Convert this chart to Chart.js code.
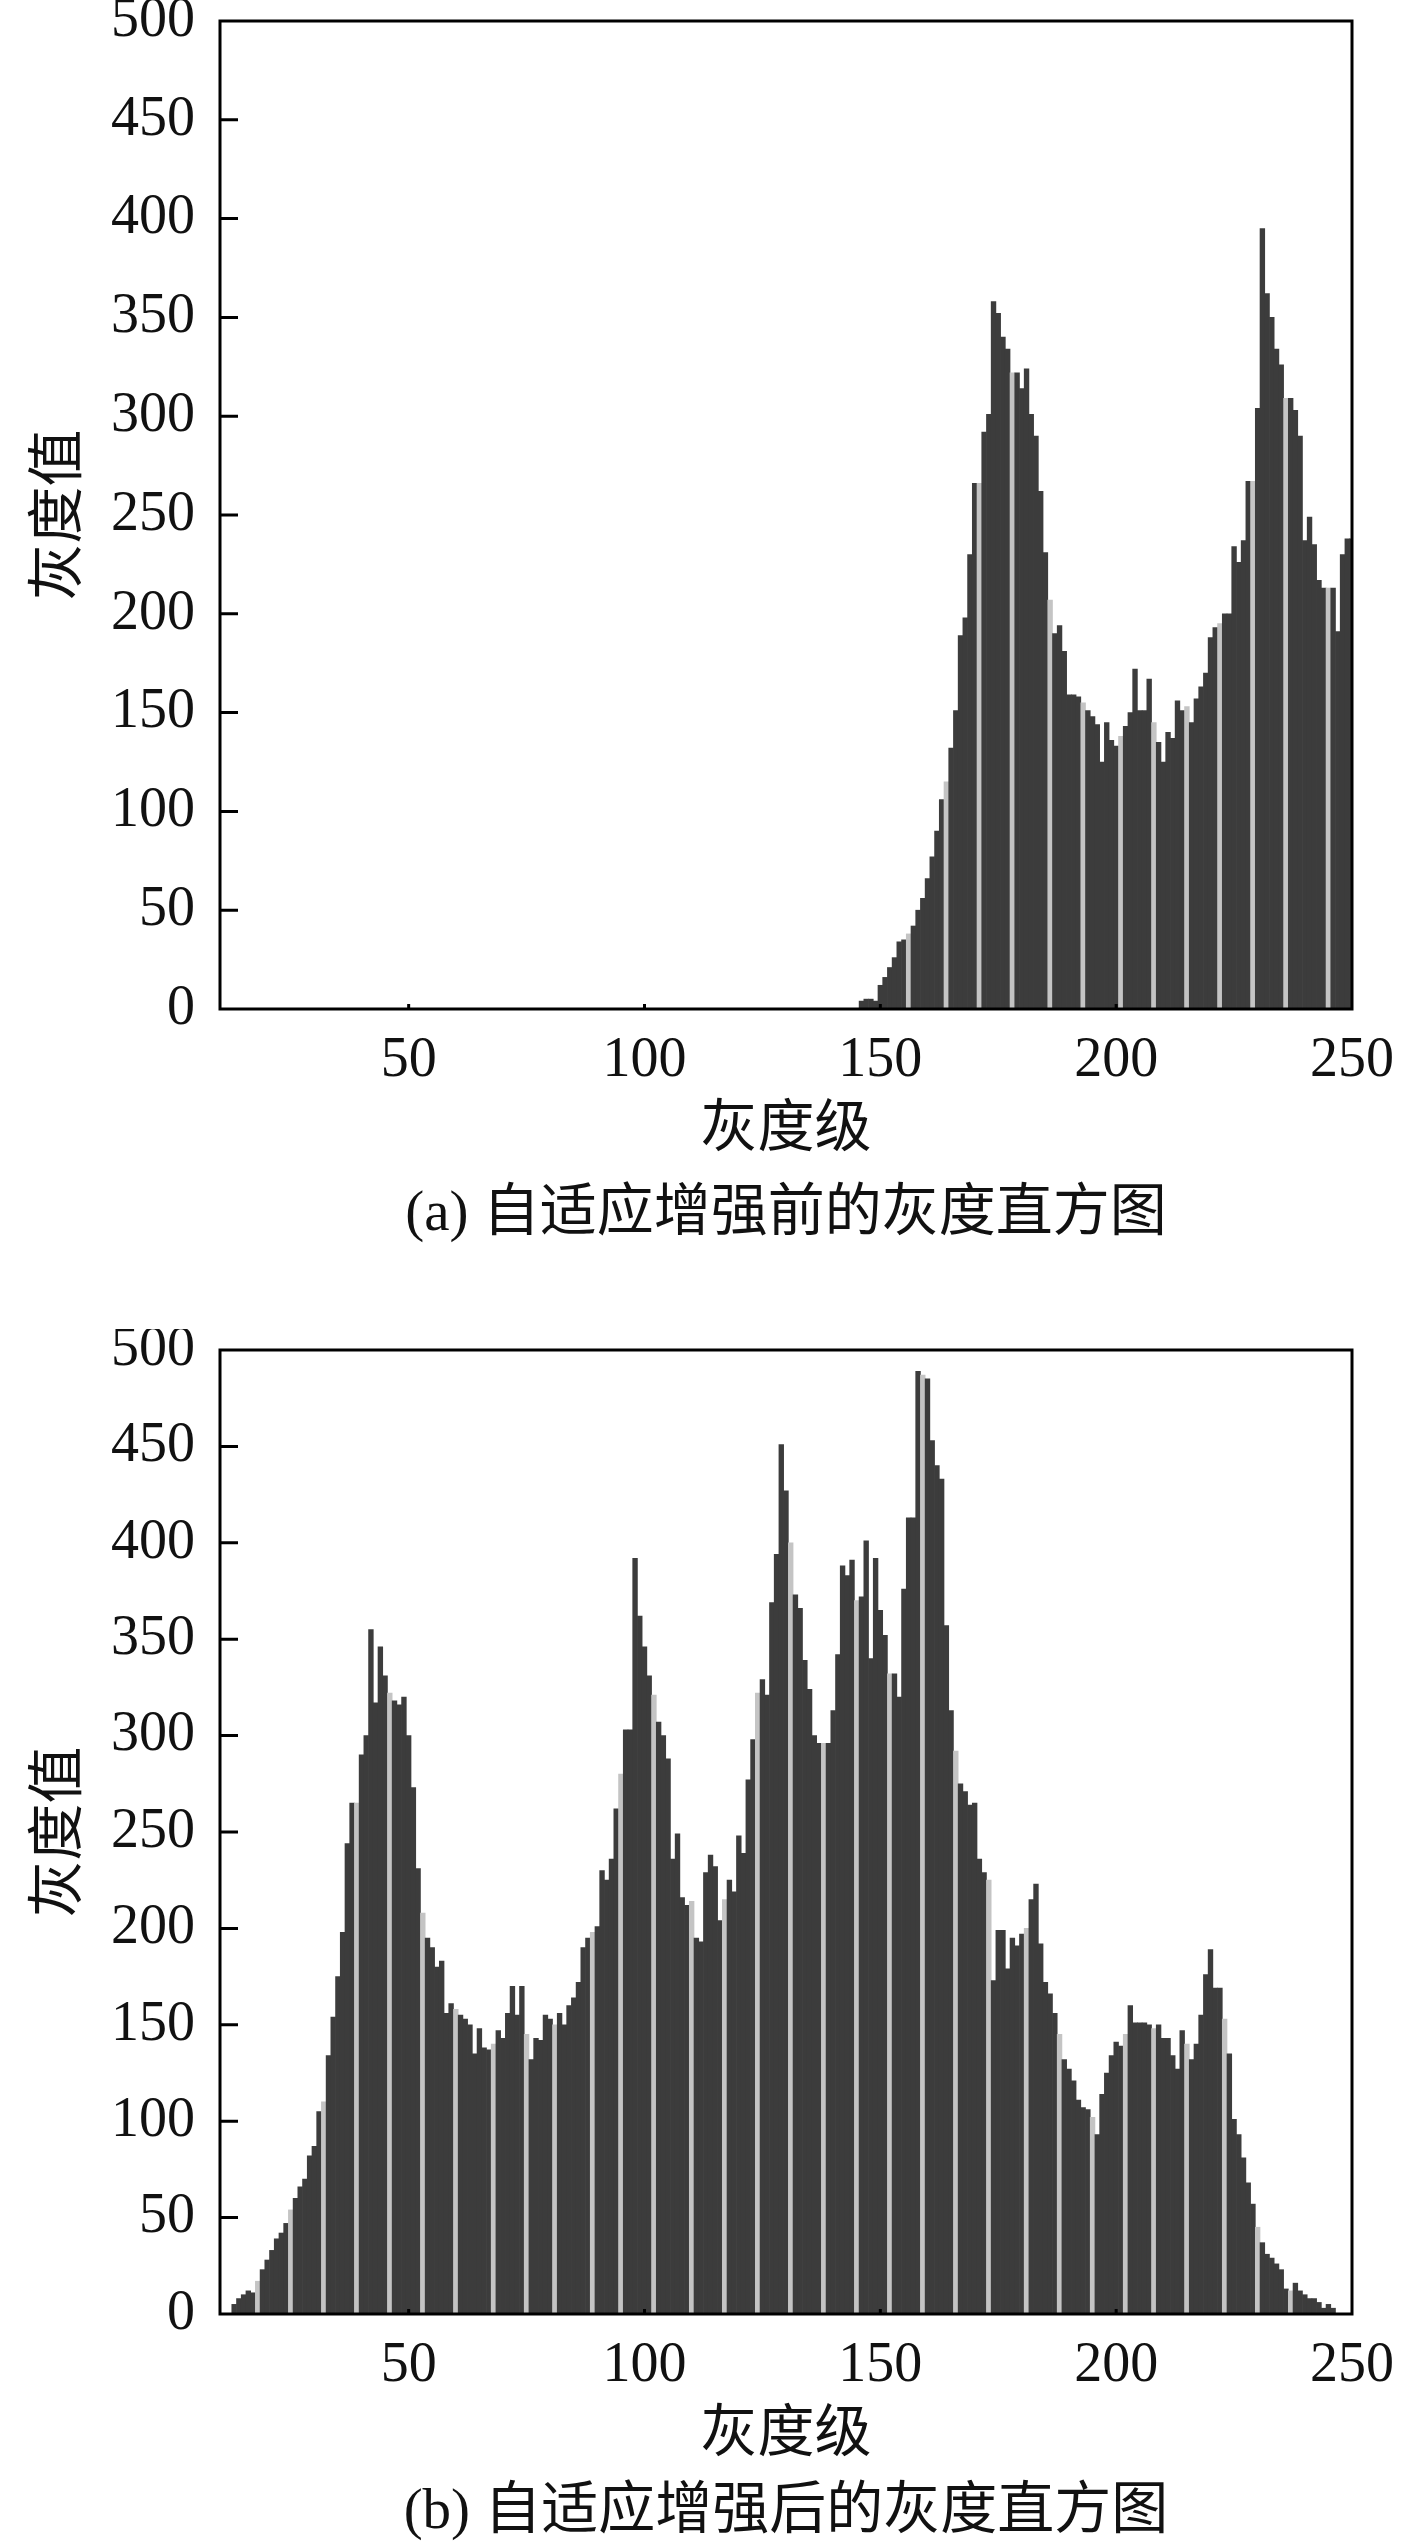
<!DOCTYPE html>
<html>
<head>
<meta charset="utf-8">
<script src="https://cdn.jsdelivr.net/npm/chart.js@4.4.1/dist/chart.umd.min.js"></script>
<style>
  body { margin: 0; background: #fff; width: 1417px; height: 2546px; position: relative; overflow: hidden; }
  canvas { position: absolute; left: 0; }
  .caption {
    position: absolute; white-space: nowrap; transform: translateX(-50%);
    font-family: 'Liberation Serif', 'Noto Sans CJK SC', serif; font-size: 57px; line-height: 57px; color: #111;
  }
</style>
</head>
<body>
<canvas id="chart_a" width="1417" height="1169" style="top:0px"></canvas>
<div class="caption" style="left:786px; top:1182px">(a) 自适应增强前的灰度直方图</div>
<canvas id="chart_b" width="1417" height="1145" style="top:1329px"></canvas>
<div class="caption" style="left:786px; top:2480px">(b) 自适应增强后的灰度直方图</div>
<script>
// (a) before enhancement
var levelsA = [];
for (var g = 146; g <= 250; g++) levelsA.push(g);
var countsA = [
  4, 5, 5, 4, 12, 16, 21, 26, 34, 35,            // 146-155
  38, 42, 50, 56, 66, 77, 90, 106, 115, 132,     // 156-165
  151, 189, 198, 230, 266, 266, 292, 301, 358, 352, // 166-175
  340, 334, 322, 322, 314, 324, 301, 290, 262, 231, // 176-185
  207, 190, 194, 181, 159, 159, 158, 155, 151, 148, // 186-195
  144, 125, 145, 136, 133, 138, 143, 150, 172, 151, // 196-205
  151, 167, 145, 135, 125, 140, 137, 156, 151, 153, // 206-215
  145, 157, 163, 170, 188, 193, 195, 200, 200, 234, // 216-225
  226, 237, 267, 267, 304, 395, 362, 350, 334, 326, // 226-235
  309, 309, 303, 290, 237, 249, 235, 217, 213, 213, // 236-245
  213, 191, 230, 238, 238                         // 246-250
];
// (b) after enhancement
var levelsB = [];
for (var h = 13; h <= 246; h++) levelsB.push(h);
var countsB = [
  5, 8, 10, 12, 11, 17, 23, 28,                   // 13-20
  33, 39, 42, 47, 54, 60, 66, 70, 82, 87,         // 21-30
  105, 110, 134, 154, 175, 198, 244, 265, 265, 290, // 31-40
  300, 355, 317, 346, 331, 322, 318, 316, 320, 300, // 41-50
  273, 231, 208, 195, 190, 180, 183, 156, 161, 158, // 51-60
  155, 153, 150, 135, 148, 138, 137, 140, 147, 143, // 61-70
  156, 170, 155, 170, 145, 132, 143, 142, 155, 153, // 71-80
  150, 156, 150, 160, 164, 172, 190, 195, 198, 201, // 81-90
  230, 225, 236, 262, 280, 303, 303, 392, 362, 346, // 91-100
  331, 321, 307, 300, 288, 236, 249, 216, 212, 214, // 101-110
  195, 193, 229, 238, 232, 204, 215, 225, 219, 248, // 111-120
  239, 277, 298, 322, 329, 321, 369, 394, 451, 427, // 121-130
  400, 373, 366, 339, 324, 300, 296, 296, 296, 313, // 131-140
  342, 388, 383, 391, 370, 372, 401, 340, 392, 365, // 141-150
  352, 332, 332, 320, 376, 413, 413, 489, 487, 485, // 151-160
  453, 440, 433, 357, 313, 292, 275, 271, 264, 265, // 161-170
  236, 229, 225, 173, 199, 199, 179, 195, 191, 197, // 171-180
  200, 215, 223, 192, 172, 166, 156, 145, 132, 127, // 181-190
  121, 111, 107, 106, 102, 93, 114, 125, 134, 141,  // 191-200
  139, 145, 160, 151, 151, 151, 150, 148, 150, 143, // 201-210
  143, 134, 127, 147, 140, 132, 140, 155, 176, 189, // 211-220
  169, 169, 153, 135, 101, 93, 81, 68, 57, 45,      // 221-230
  37, 31, 29, 26, 23, 13, 12, 16, 12, 10,           // 231-240
  8, 8, 6, 3, 5, 3                                  // 241-246
];
// light resampling stripes seen in the scan
var paleA = [156, 164, 171, 178, 186, 193, 201, 208, 215, 222, 229, 236, 245];
var paleB = [18, 25, 32, 39, 46, 53, 60, 68, 75, 81, 89, 95, 102, 110, 117, 124, 131, 138,
             145, 152, 159, 166, 173, 181, 188, 195, 202, 208, 215, 223, 230, 237];
var xTicks = [50, 100, 150, 200, 250];
var yTicks = [0, 50, 100, 150, 200, 250, 300, 350, 400, 450, 500];

var DARK = '#3c3c3c', PALE = '#c4c4c4';
var numFont = { family: 'Liberation Serif', size: 56 };
var cjkFont = { family: 'Noto Sans CJK SC', size: 57 };

var boxTicks = {
  id: 'boxTicks',
  afterDatasetsDraw: function(chart) {
    var ctx = chart.ctx, a = chart.chartArea, x = chart.scales.x, y = chart.scales.y;
    ctx.save();
    ctx.strokeStyle = '#000';
    ctx.lineWidth = 3;
    ctx.strokeRect(a.left, a.top, a.right - a.left, a.bottom - a.top);
    ctx.beginPath();
    yTicks.forEach(function(v) {
      if (v > 0 && v < 500) {
        var py = y.getPixelForValue(v);
        ctx.moveTo(a.left, py);
        ctx.lineTo(a.left + 18, py);
      }
    });
    xTicks.forEach(function(v) {
      if (v < 250) {
        var px = x.getPixelForValue(v);
        ctx.moveTo(px, a.bottom);
        ctx.lineTo(px, a.bottom - 5);
      }
    });
    ctx.stroke();
    ctx.restore();
  }
};

function noPad(s) {
  s.paddingTop = 0; s.paddingBottom = 0; s.paddingLeft = 0; s.paddingRight = 0;
}

function makeChart(id, levels, counts, pale) {
  var points = levels.map(function(v, i) { return { x: v, y: counts[i] }; });
  var colours = levels.map(function(v) { return pale.indexOf(v) >= 0 ? PALE : DARK; });
  return new Chart(document.getElementById(id), {
    type: 'bar',
    data: {
      datasets: [{
        data: points,
        backgroundColor: colours,
        borderWidth: 0,
        barPercentage: 1,
        categoryPercentage: 1,
        clip: 0
      }]
    },
    options: {
      responsive: false,
      animation: false,
      devicePixelRatio: 1,
      layout: { autoPadding: false, padding: { left: 0, right: 65, top: 21, bottom: 0 } },
      plugins: { legend: { display: false }, tooltip: { enabled: false } },
      scales: {
        x: {
          type: 'linear', min: 10, max: 250, offset: false,
          grid: { display: false, drawTicks: false },
          border: { display: false },
          afterBuildTicks: function(s) { s.ticks = xTicks.map(function(v) { return { value: v }; }); },
          afterFit: function(s) { s.height = 160; noPad(s); },
          ticks: { font: numFont, color: '#111', padding: 19, maxRotation: 0, autoSkip: false },
          title: { display: true, text: '灰度级', font: cjkFont, color: '#111', padding: { top: 0, bottom: 10 } }
        },
        y: {
          min: 0, max: 500,
          grid: { display: false, drawTicks: false },
          border: { display: false },
          afterBuildTicks: function(s) { s.ticks = yTicks.map(function(v) { return { value: v }; }); },
          afterFit: function(s) { s.width = 220; noPad(s); },
          ticks: { font: numFont, color: '#111', padding: 25 },
          title: { display: true, text: '灰度值', font: cjkFont, color: '#111', padding: { top: 20, bottom: 0 } }
        }
      }
    },
    plugins: [boxTicks]
  });
}

makeChart('chart_a', levelsA, countsA, paleA);
makeChart('chart_b', levelsB, countsB, paleB);
</script>
</body>
</html>
